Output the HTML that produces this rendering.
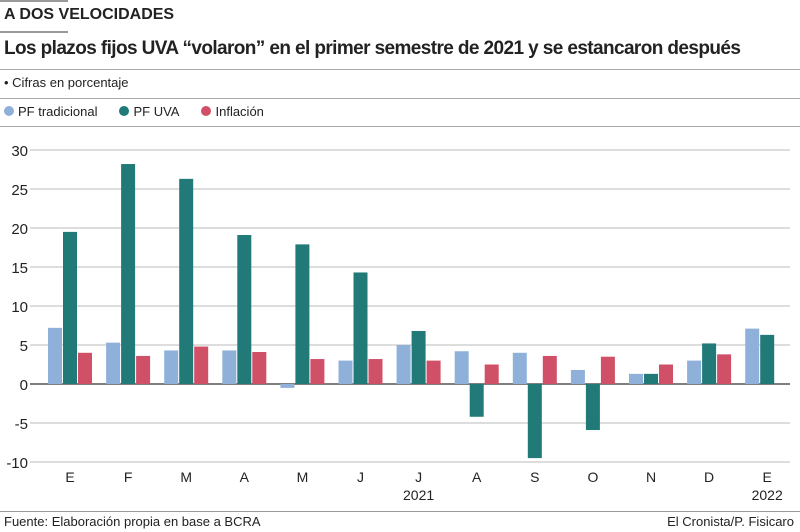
<!DOCTYPE html>
<html><head><meta charset="utf-8"><style>
body{margin:0;width:800px;height:532px;background:#fff;overflow:hidden;font-family:"Liberation Sans",sans-serif;color:#222}
.t{position:absolute;left:4px;white-space:nowrap}
</style></head><body>
<div style="position:relative;width:800px;height:532px">
<div style="position:absolute;left:0;top:0;width:68px;height:2px;background:#999"></div>
<div class="t" style="top:6px;font-size:16px;font-weight:bold">A DOS VELOCIDADES</div>
<div style="position:absolute;left:0;top:31px;width:68px;height:2px;background:#999"></div>
<div class="t" style="top:38px;font-size:19px;font-weight:bold;letter-spacing:-0.6px">Los plazos fijos UVA “volaron” en el primer semestre de 2021 y se estancaron después</div>
<div style="position:absolute;left:0;top:69px;width:800px;height:1px;background:#aaa"></div>
<div class="t" style="top:75px;font-size:13px">• Cifras en porcentaje</div>
<div style="position:absolute;left:0;top:98px;width:800px;height:1px;background:#aaa"></div>
<div style="position:absolute;left:4px;top:104px;font-size:13px;display:flex;gap:22px">
<span><span style="display:inline-block;width:10px;height:10px;border-radius:50%;background:#8fb0d8;margin-right:4px"></span>PF tradicional</span>
<span><span style="display:inline-block;width:10px;height:10px;border-radius:50%;background:#217a78;margin-right:4px"></span>PF UVA</span>
<span><span style="display:inline-block;width:10px;height:10px;border-radius:50%;background:#d05068;margin-right:4px"></span>Inflación</span>
</div>
<div style="position:absolute;left:0;top:126px;width:800px;height:1px;background:#aaa"></div>
<svg id="ch" style="position:absolute;left:0;top:0" width="800" height="532"></svg>
<div style="position:absolute;left:0;top:511px;width:800px;height:1px;background:#999"></div>
<div class="t" style="top:514px;font-size:13px">Fuente: Elaboración propia en base a BCRA</div>
<div style="position:absolute;right:6px;top:514px;font-size:13px">El Cronista/P. Fisicaro</div>
</div>
<script>
const months=["E","F","M","A","M","J","J","A","S","O","N","D","E"];
const pfTradicional=[7.2,5.3,4.3,4.3,-0.5,3.0,5.0,4.2,4.0,1.8,1.3,3.0,7.1];
const pfUva=[19.5,28.2,26.3,19.1,17.9,14.3,6.8,-4.2,-9.5,-5.9,1.3,5.2,6.3];
const inflacion=[4.0,3.6,4.8,4.1,3.2,3.2,3.0,2.5,3.6,3.5,2.5,3.8,null];
const yTicks=[30,25,20,15,10,5,0,-5,-10];
const NS="http://www.w3.org/2000/svg",svg=document.getElementById("ch");
const y=v=>384-v*7.8;
const gx=i=>70+i*58.1;
function mk(t,a){const e=document.createElementNS(NS,t);for(const k in a)e.setAttribute(k,a[k]);svg.appendChild(e);return e;}
yTicks.forEach(v=>{
 const l=mk("line",{x1:30,x2:790,y1:y(v),y2:y(v),stroke:v===0?"#555":"#bbb","stroke-width":v===0?1.5:1});
 
 
 const t=mk("text",{x:28,y:y(v)+6,"text-anchor":"end","font-size":15,fill:"#222"});t.textContent=v;
 
 
});
const series=[[pfTradicional,"#8fb0d8",-15,"bar-pf-tradicional"],[pfUva,"#217a78",0,"bar-pf-uva"],[inflacion,"#d05068",15,"bar-inflacion"]];
months.forEach((m,i)=>{
 series.forEach(([arr,c,off,nm])=>{
  const v=arr[i];if(v==null)return;
  const r=mk("rect",{x:gx(i)+off-7,y:Math.min(y(v),y(0)),width:14,height:Math.abs(y(v)-y(0)),fill:c});
  
  
 });
 const t=mk("text",{x:gx(i),y:482,"text-anchor":"middle","font-size":14,fill:"#222"});t.textContent=m;
 
 
});
[["2021",gx(6)],["2022",gx(12)]].forEach(([s,x])=>{
 const t=mk("text",{x:x,y:500,"text-anchor":"middle","font-size":14,fill:"#222"});t.textContent=s;
 
 
});
</script>
</body></html>
